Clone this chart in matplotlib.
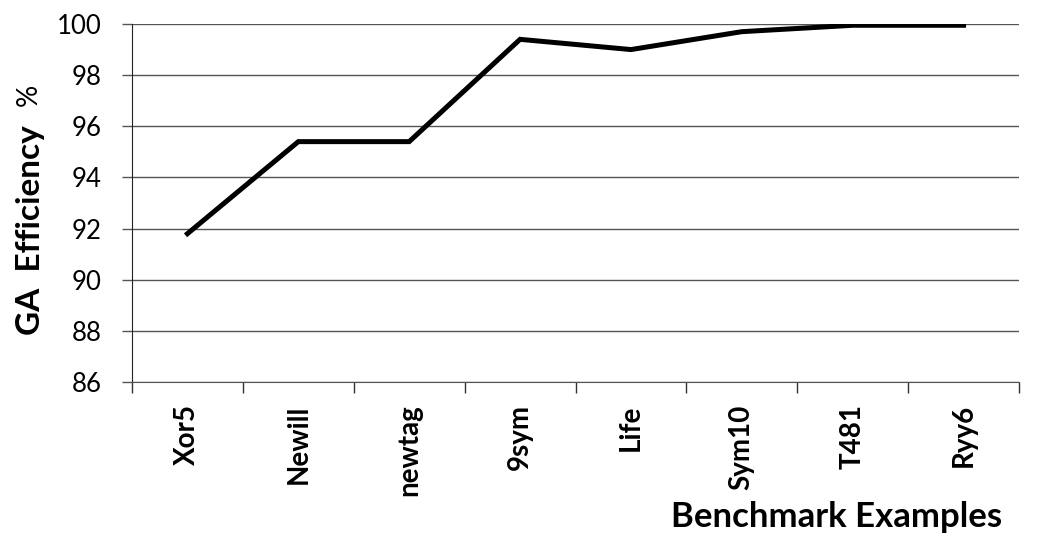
import numpy as np
import matplotlib
matplotlib.use('Agg')
import matplotlib.pyplot as plt

# GA efficiency per benchmark circuit
benchmarks = ['Xor5', 'Newill', 'newtag', '9sym', 'Life', 'Sym10', 'T481', 'Ryy6']
efficiency = [91.8, 95.4, 95.4, 99.4, 99.0, 99.7, 99.95, 99.95]
y_ticks = [86, 88, 90, 92, 94, 96, 98, 100]

plt.rcParams['font.family'] = ['Lato', 'DejaVu Sans']

fig = plt.figure(figsize=(10.38, 5.38), dpi=100)
ax = fig.add_axes([132/1038., 1 - 382/538., (1019 - 132)/1038., (382 - 24)/538.])

x = np.arange(len(benchmarks))
ax.plot(x, efficiency, color='black', linewidth=3.6, solid_joinstyle='miter', zorder=3)

ax.set_xlim(-0.5, len(benchmarks) - 0.5)
ax.set_ylim(86, 100)
ax.set_yticks(y_ticks)
ax.set_yticklabels([str(v) for v in y_ticks], fontsize=18.5)
ax.yaxis.grid(True, color='#555555', linewidth=1.0)
ax.set_axisbelow(True)

# ticks on category boundaries, labels at category centres
ax.set_xticks(np.arange(-0.5, len(benchmarks)))
ax.set_xticklabels([])
ax.set_xticks(x, minor=True)
ax.set_xticklabels(benchmarks, minor=True, rotation=90, fontsize=20,
                   fontweight='bold', va='top')
ax.tick_params(axis='x', which='major', length=8, width=1, color='#333333')
ax.tick_params(axis='x', which='minor', length=0, pad=16)
ax.tick_params(axis='y', length=7, width=1, color='#555555', pad=15)

for s in ['top', 'right']:
    ax.spines[s].set_visible(False)
ax.spines['left'].set_color('#222222')
ax.spines['bottom'].set_color('#555555')

fig.text(31/1038., 1 - 335/538., 'GA  Efficiency', rotation=90, ha='center',
         va='bottom', fontsize=24, fontweight='bold')
fig.text(29/1038., 1 - 84/538., '%', rotation=90, ha='center', va='top',
         fontsize=20)
fig.text(1002/1038., 11/538., 'Benchmark Examples', ha='right', va='baseline',
         fontsize=25, fontweight='bold')

fig.savefig('out.png', dpi=100)
